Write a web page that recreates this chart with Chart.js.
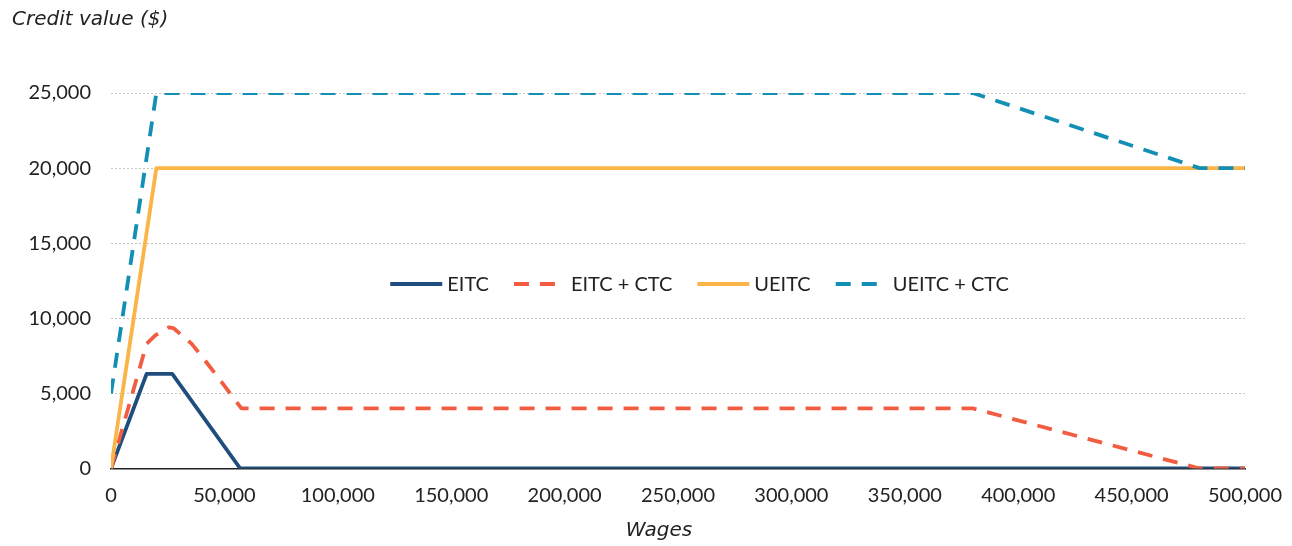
<!DOCTYPE html>
<html><head><meta charset="utf-8">
<script src="https://cdn.jsdelivr.net/npm/chart.js@4.4.1/dist/chart.umd.min.js"></script>
<style>html,body{margin:0;padding:0;background:#fff;}#wrap{width:1292px;height:546px;position:relative;}</style>
</head><body><div id="wrap"><canvas id="c" width="1292" height="546"></canvas></div>
<script>
// ---- data ----
const seriesNames = ['EITC', 'EITC + CTC', 'UEITC', 'UEITC + CTC'];
const eitcWages = [0, 15700, 27000, 57000, 500000];
const eitcValues = [0, 6300, 6300, 0, 0];
const eitcCtcWages = [0, 15700, 19400, 25500, 27500, 35600, 41400, 48800, 56000, 57500, 380000, 480000, 500000];
const eitcCtcValues = [0, 8300, 8850, 9400, 9350, 8300, 7200, 5750, 4300, 4000, 4000, 0, 0];
const ueitcWages = [0, 20000, 500000];
const ueitcValues = [0, 20000, 20000];
const ueitcCtcWages = [0, 20000, 380000, 480000, 500000];
const ueitcCtcValues = [5000, 25000, 25000, 20000, 20000];
const xTickValues = [0, 50000, 100000, 150000, 200000, 250000, 300000, 350000, 400000, 450000, 500000];
const yTickValues = [0, 5000, 10000, 15000, 20000, 25000];
const xTitle = 'Wages';
const yTitle = 'Credit value ($)';

const pts = (xs, ys) => xs.map((x, i) => ({x: x, y: ys[i]}));
const fmt = v => Number(v).toLocaleString('en-US');
const FONT = 'Lato';
const TFONT = '"DejaVu Sans"';
const TXT = '#222222';
const DASH = [15, 11];

const midLegend = {
  id: 'midLegend',
  afterDatasetsDraw(chart) {
    const ctx = chart.ctx, ca = chart.chartArea;
    ctx.save();
    ctx.font = '20px ' + FONT;
    const sampleW = 52, textGap = 5, itemGap = 25;
    const ds = chart.data.datasets;
    const widths = ds.map(d => sampleW + textGap + ctx.measureText(d.label).width);
    const total = widths.reduce((a, b) => a + b, 0) + itemGap * (ds.length - 1);
    let x = ca.left + (ca.right - ca.left) * 0.519 - total / 2;
    const y = ca.top + 191;
    ds.forEach((d, i) => {
      ctx.beginPath();
      ctx.setLineDash(d.borderDash || []);
      ctx.lineWidth = d.borderWidth;
      ctx.strokeStyle = d.borderColor;
      ctx.lineCap = 'butt';
      ctx.moveTo(x, y);
      ctx.lineTo(x + sampleW, y);
      ctx.stroke();
      ctx.setLineDash([]);
      ctx.fillStyle = TXT;
      ctx.textBaseline = 'middle';
      ctx.textAlign = 'left';
      ctx.fillText(d.label, x + sampleW + textGap, y + 1);
      x += widths[i] + itemGap;
    });
    // x-axis title, slightly left of the plot centre as in the reference
    ctx.font = 'italic 20px ' + TFONT;
    ctx.textAlign = 'center';
    ctx.textBaseline = 'middle';
    ctx.fillStyle = TXT;
    const xs = chart.scales.x;
    ctx.fillText(xTitle, (ca.left + ca.right) / 2 - 19, xs.bottom - 15);
    ctx.restore();
  }
};

new Chart(document.getElementById('c'), {
  type: 'line',
  data: {
    datasets: [
      {label: seriesNames[0], data: pts(eitcWages, eitcValues), borderColor: '#1f4e7e', borderWidth: 3.8, order: 4},
      {label: seriesNames[1], data: pts(eitcCtcWages, eitcCtcValues), borderColor: '#f25c40', borderWidth: 3.8, borderDash: DASH, order: 3},
      {label: seriesNames[2], data: pts(ueitcWages, ueitcValues), borderColor: '#fbb448', borderWidth: 3.8, order: 2},
      {label: seriesNames[3], data: pts(ueitcCtcWages, ueitcCtcValues), borderColor: '#138fb6', borderWidth: 3.8, borderDash: DASH, order: 1}
    ]
  },
  options: {
    responsive: false,
    animation: false,
    devicePixelRatio: 1,
    layout: {padding: {left: 12, right: 47, top: 0, bottom: 0}},
    elements: {point: {radius: 0, hoverRadius: 0}, line: {tension: 0, fill: false, borderJoinStyle: 'round'}},
    plugins: {
      legend: {display: false},
      tooltip: {enabled: false},
      title: {
        display: true, text: yTitle, align: 'start', color: TXT,
        font: {family: TFONT, size: 20, style: 'italic', weight: 'normal', lineHeight: 1.2},
        padding: {top: 8, bottom: 61}
      }
    },
    scales: {
      x: {
        type: 'linear', min: 0, max: 500000,
        afterBuildTicks: s => { s.ticks = xTickValues.map(v => ({value: v})); },
        afterFit: s => { s.paddingRight = 0; s.paddingLeft = 0; s.height += 23.5; },
        ticks: {callback: v => fmt(v), color: TXT, padding: 15, maxRotation: 0, autoSkip: false,
                font: {family: FONT, size: 20}},
        grid: {display: false, drawTicks: false},
        border: {display: true, color: '#222222', width: 1.5},
        title: {display: false}
      },
      y: {
        type: 'linear', min: 0, max: 25000,
        afterBuildTicks: s => { s.ticks = yTickValues.map(v => ({value: v})); },
        afterFit: s => { s.width = 99; },
        ticks: {callback: v => fmt(v), color: TXT, padding: 20, font: {family: FONT, size: 20}},
        grid: {drawTicks: false, lineWidth: 1,
               color: c => (c.tick && c.tick.value === 0) ? 'rgba(0,0,0,0)' : '#c4c4c4'},
        border: {display: false, dash: [2, 2]}
      }
    }
  },
  plugins: [midLegend]
});
</script>
</body></html>
